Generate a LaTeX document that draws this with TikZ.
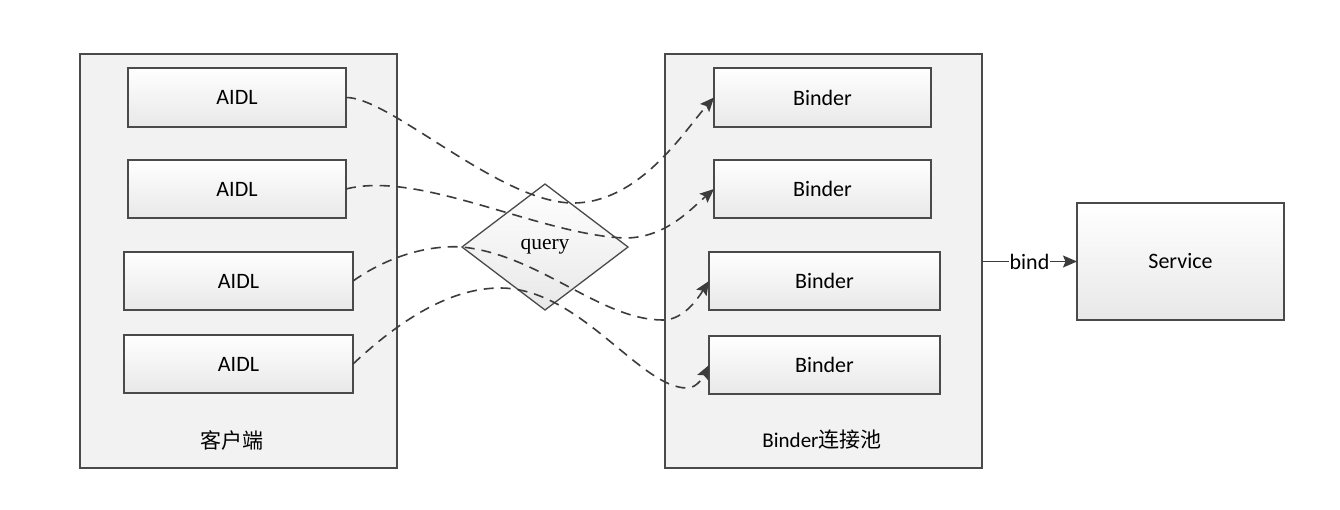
\documentclass[tikz,border=0pt]{standalone}
\usepackage{fontspec}
\setmainfont{Carlito}
\newfontfamily\seriffont{Liberation Serif}
\newfontfamily\cjk{Noto Sans CJK SC}
\usetikzlibrary{shapes.geometric,arrows.meta}

\definecolor{edge}{HTML}{4A4A4A}
\definecolor{panel}{HTML}{F2F2F2}
\definecolor{link}{HTML}{3C3C3C}

\tikzset{
  panelbox/.style={draw=edge, line width=1.4pt, fill=panel, inner sep=0pt, outer sep=0pt},
  itembox/.style={draw=edge, line width=1.4pt, top color=white, bottom color=black!9,
    inner sep=0pt, outer sep=0pt, font=\fontsize{22}{26}\selectfont},
  decide/.style={diamond, draw=edge, line width=1.3pt, top color=white, bottom color=black!9,
    inner sep=0pt, outer sep=0pt, minimum width=166pt, minimum height=126pt,
    font=\seriffont\fontsize{21.5}{25}\selectfont},
  caption/.style={font=\fontsize{21}{25}\selectfont, inner sep=1pt},
  link/.style={draw=link, line width=1.6pt, dash pattern=on 10pt off 7pt,
    -{Stealth[length=14pt, width=12pt, inset=2.5pt]}},
  plain/.style={draw=link, line width=1.4pt, -{Stealth[length=14pt, width=12pt, inset=2.5pt]}},
}

\begin{document}
\begin{tikzpicture}[x=1pt, y=-1pt]
  \useasboundingbox[fill=white] (0,0) rectangle (1340,509);

  % containers
  \node[panelbox, minimum width=317pt, minimum height=414pt] (client) at (238.5,261) {};
  \node[panelbox, minimum width=317pt, minimum height=414pt] (pool) at (823.5,261) {};
  \node[caption] (clientlbl) at (232,440) {\cjk 客户端};
  \node[caption] (poollbl) at (822,440) {Binder{\cjk 连接池}};

  % client stubs
  \node[itembox, minimum width=218pt, minimum height=59pt] (a1) at (237,97.5) {AIDL};
  \node[itembox, minimum width=218pt, minimum height=58pt] (a2) at (237,189) {AIDL};
  \node[itembox, minimum width=229pt, minimum height=58pt] (a3) at (238.5,281) {AIDL};
  \node[itembox, minimum width=229pt, minimum height=58pt] (a4) at (238.5,364) {AIDL};

  % pooled binders
  \node[itembox, minimum width=217pt, minimum height=59pt] (b1) at (822.5,97.5) {Binder};
  \node[itembox, minimum width=217pt, minimum height=58pt] (b2) at (822.5,189) {Binder};
  \node[itembox, minimum width=231pt, minimum height=58pt] (b3) at (824.5,281) {Binder};
  \node[itembox, minimum width=231pt, minimum height=58pt] (b4) at (824.5,365) {Binder};

  % remote service
  \node[itembox, minimum width=207pt, minimum height=117pt] (svc) at (1180.5,261.5) {Service};

  % query decision
  \node[decide] (q) at (545,247) {query};

  % turning points of the query links
  \coordinate (m1) at (573,203);
  \coordinate (m2) at (625,238);
  \coordinate (m3) at (663,320);
  \coordinate (m4top) at (500,288);
  \coordinate (m4) at (687,388);

  \draw[link] (a1.east) .. controls (390,97) and (500,203) .. (m1)
              .. controls (640,203) and (685,130) .. (b1.west);
  \draw[link] (a2.east) .. controls (420,170) and (540,235) .. (m2)
              .. controls (665,238) and (690,210) .. (b2.west);
  \draw[link] (a3.east) .. controls (390,255) and (430,245) .. (q.west)
              .. controls (540,255) and (600,320) .. (m3)
              .. controls (685,320) and (700,295) .. (b3.west);
  \draw[link] (a4.east) .. controls (400,320) and (450,288) .. (m4top)
              .. controls (580,288) and (640,388) .. (m4)
              .. controls (698,388) and (704,375) .. (b4.west);

  % bind
  \draw[plain] (pool.east |- svc.west) -- node[fill=white, inner sep=1pt, font=\fontsize{22}{26}\selectfont] (bindlbl) {bind} (svc.west);
\end{tikzpicture}
\end{document}
